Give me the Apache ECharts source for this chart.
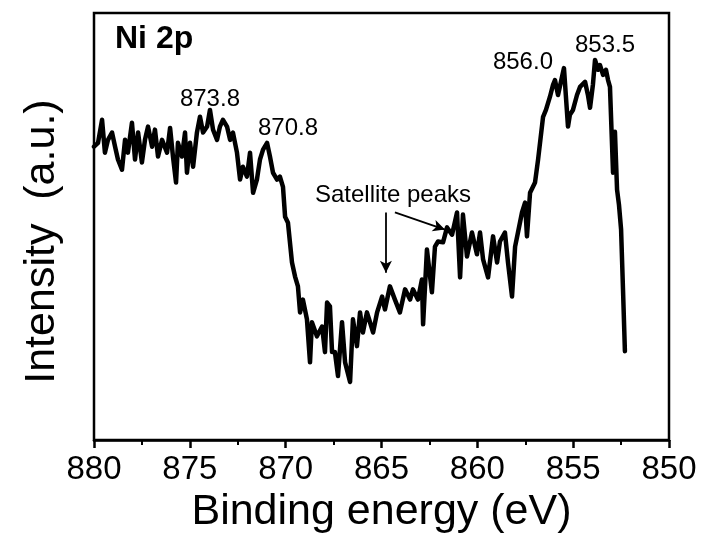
<!DOCTYPE html>
<html>
<head>
<meta charset="utf-8">
<script src="https://cdn.jsdelivr.net/npm/echarts@6/dist/echarts.min.js"></script>
<style>
html,body{margin:0;padding:0;background:#fff;}
#chart{width:703px;height:539px;}
</style>
</head>
<body>
<div id="chart"></div>
<script>
// Binding energy (eV)
const energy = [880.0,879.79,879.58,879.43,879.27,879.06,878.90,878.75,878.54,878.38,878.23,878.02,877.86,877.70,877.50,877.34,877.18,876.97,876.82,876.66,876.45,876.19,876.03,875.88,875.72,875.62,875.41,875.25,875.15,874.99,874.83,874.63,874.47,874.31,874.10,873.95,873.79,873.58,873.43,873.27,873.06,872.90,872.75,872.54,872.38,872.23,872.02,871.86,871.70,871.50,871.34,871.18,870.97,870.82,870.66,870.45,870.30,870.14,870.03,
869.88,869.67,869.51,869.36,869.25,869.10,868.89,868.73,868.63,868.37,868.10,867.95,867.84,867.69,867.58,867.43,867.27,867.06,866.90,866.64,866.49,866.28,866.12,865.97,865.76,865.60,865.44,865.23,864.97,864.82,864.56,
864.30,864.04,863.77,863.51,863.36,863.10,862.89,862.83,862.63,862.37,862.21,862.05,861.79,861.58,861.32,861.06,860.90,860.75,860.54,860.28,860.02,859.86,859.70,859.44,859.18,858.97,858.82,858.56,858.40,858.19,858.03,857.88,857.67,857.51,857.41,857.25,856.99,
856.83,856.57,856.42,856.21,856.05,855.95,855.79,855.69,855.48,855.27,855.17,855.01,854.80,854.64,854.38,854.23,854.12,853.97,853.86,853.70,853.60,853.44,853.29,853.18,853.08,852.92,852.82,852.71,852.61,852.50,852.40,852.30];
// Intensity (a.u.)
const intensity = [687,696,750,673,703,720,687,657,633,703,673,743,657,720,650,703,734,687,727,664,703,673,731,664,603,696,664,720,626,696,640,720,757,720,734,773,727,703,734,750,734,703,720,673,610,640,617,673,579,610,657,680,696,664,626,610,617,593,523,
509,416,383,360,299,329,283,182,276,243,266,206,322,313,206,206,150,276,182,136,283,220,299,252,299,276,252,299,336,306,360,
329,299,353,329,353,329,376,271,446,346,453,465,463,498,481,533,381,528,430,486,435,486,423,381,477,416,465,486,416,336,453,486,533,556,477,579,603,
657,757,773,804,832,843,808,804,871,734,762,773,808,827,839,808,778,832,890,867,878,855,867,843,827,626,722,586,551,493,353,208];

const xTicks = [880, 875, 870, 865, 860, 855, 850];
const peakLabels = ['873.8', '870.8', '856.0', '853.5'];
const peakLabelX = [873.95, 869.88, 857.62, 853.34];
const peakLabelY = [797, 731, 885, 925];
const satelliteText = 'Satellite peaks';
const satelliteAt = [864.40, 572];
const arrowStarts = [[864.77, 533], [864.30, 533]];
const arrowEnds = [[864.77, 392], [861.69, 493]];
const panelTitle = 'Ni 2p';

const FONT = '"Liberation Sans", Arial, Helvetica, sans-serif';

const chart = echarts.init(document.getElementById('chart'), null, {renderer: 'canvas'});

const lineData = energy.map((e, i) => [e, intensity[i]]);

const markPts = peakLabels.map((t, i) => ({
  coord: [peakLabelX[i], peakLabelY[i]],
  value: t,
  label: {formatter: t}
}));
markPts.push({coord: satelliteAt, value: satelliteText, label: {formatter: satelliteText}});

chart.setOption({
  animation: false,
  backgroundColor: '#ffffff',
  grid: {left: 94, right: 34, top: 13, bottom: 98, show: true, borderColor: '#000', borderWidth: 2.5, containLabel: false},
  xAxis: {
    type: 'value', min: 850, max: 880, interval: 5, inverse: true,
    name: 'Binding energy (eV)', nameLocation: 'middle', nameGap: 47,
    nameTextStyle: {fontSize: 43, color: '#000', fontFamily: FONT},
    axisLine: {show: true, onZero: false, lineStyle: {color: '#000', width: 2.5}},
    axisTick: {show: true, inside: false, length: 8, lineStyle: {color: '#000', width: 2.5}},
    minorTick: {show: true, splitNumber: 2, length: 5, lineStyle: {color: '#000', width: 2}},
    axisLabel: {fontSize: 33, color: '#000', fontFamily: FONT, margin: 13,
      formatter: v => xTicks.includes(v) ? String(v) : ''},
    splitLine: {show: false}
  },
  yAxis: {
    type: 'value', min: 0, max: 1000,
    name: 'Intensity  (a.u.)', nameLocation: 'middle', nameGap: 30, nameRotate: 90,
    nameTextStyle: {fontSize: 43, color: '#000', fontFamily: FONT, padding: [0, 30, 0, 0]},
    axisLine: {show: false}, axisTick: {show: false}, axisLabel: {show: false}, splitLine: {show: false}
  },
  graphic: [{
    type: 'text', left: 115, top: 23, z: 10,
    style: {text: panelTitle, font: 'bold 32px ' + FONT, fill: '#000'}
  }],
  series: [{
    type: 'line', data: lineData, showSymbol: false, symbol: 'none',
    lineStyle: {color: '#000', width: 4.5, join: 'round', cap: 'round'},
    z: 3,
    markPoint: {
      symbol: 'circle', symbolSize: 0, silent: true,
      label: {show: true, position: 'inside', color: '#000', fontSize: 24, fontFamily: FONT},
      data: markPts
    },
    markLine: {
      silent: true, symbol: ['none', 'arrow'], symbolSize: [9, 12], precision: 4,
      label: {show: false},
      lineStyle: {color: '#000', width: 1.8, type: 'solid'},
      emphasis: {disabled: true},
      data: arrowStarts.map((s, i) => [{coord: s}, {coord: arrowEnds[i]}])
    }
  }]
});
</script>
</body>
</html>
